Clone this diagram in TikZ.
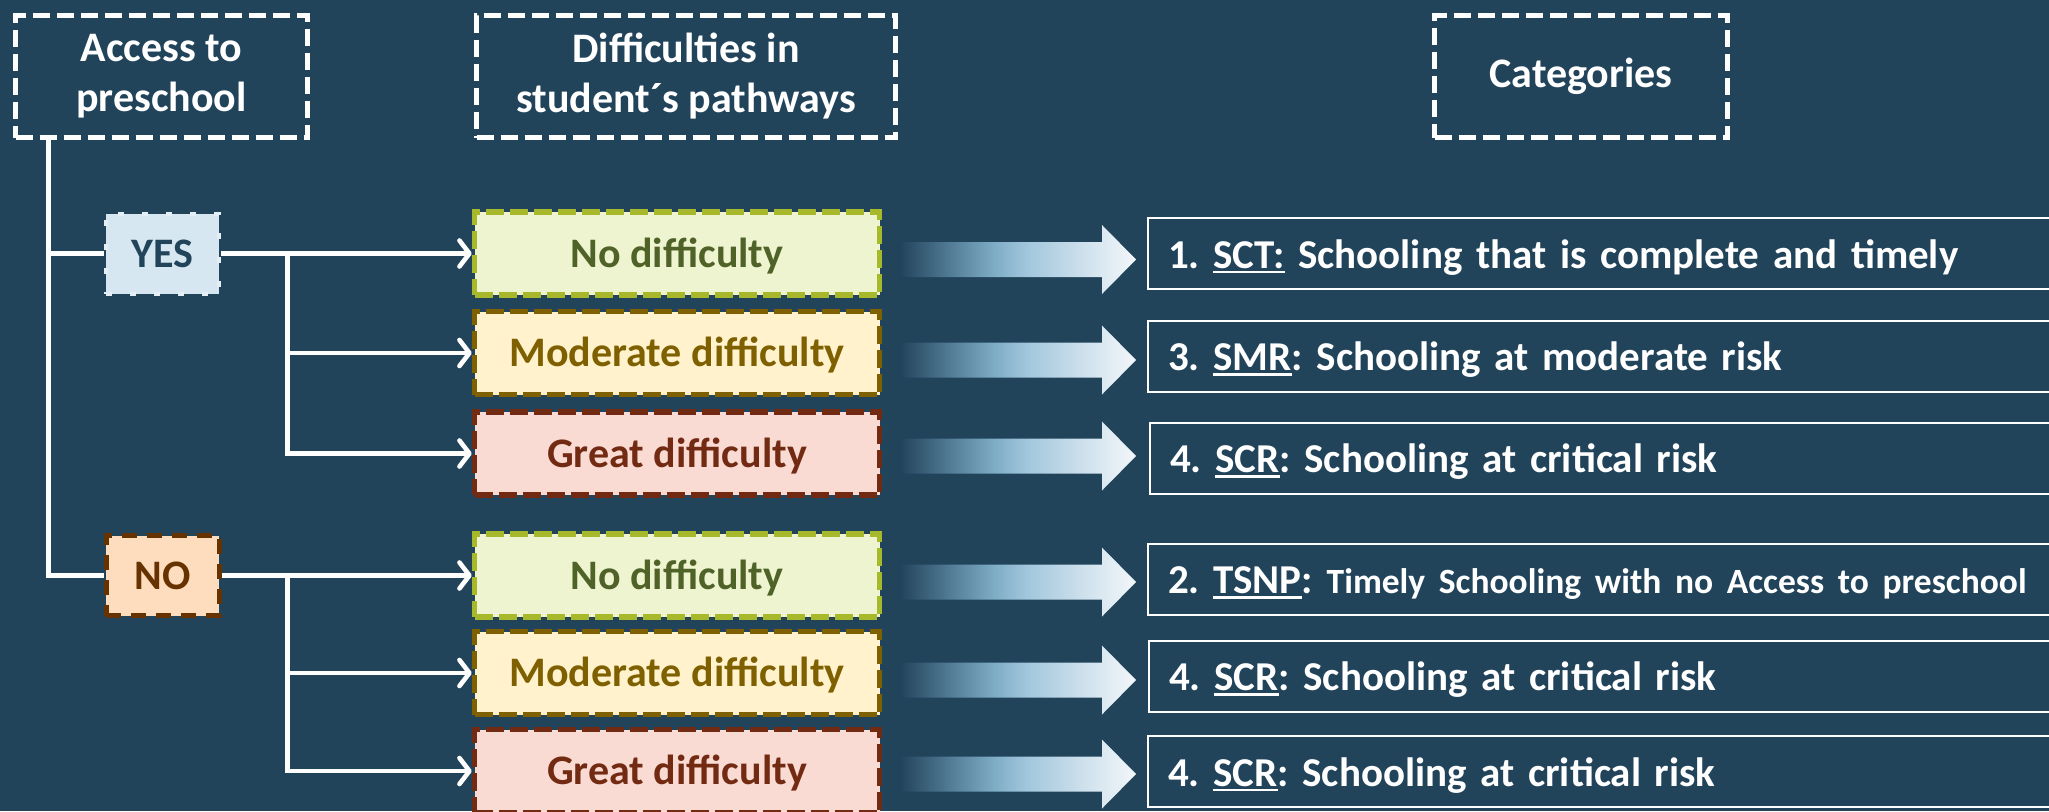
\documentclass[tikz,border=0pt]{standalone}
\usepackage{fontspec}
\setmainfont{Carlito}
\usetikzlibrary{arrows.meta,calc}
\definecolor{bgc}{HTML}{22445B}
\definecolor{ga1}{HTML}{4F7893}
\definecolor{ga2}{HTML}{7EADC6}
\definecolor{ga3}{HTML}{A2C7DC}
\definecolor{ga4}{HTML}{D2E3EE}
\definecolor{ga5}{HTML}{F3F7FA}
\definecolor{yesfill}{HTML}{D7E7F1}
\definecolor{yesborder}{HTML}{E4EEF5}
\definecolor{yestext}{HTML}{22445B}
\definecolor{nofill}{HTML}{FEDDBF}
\definecolor{nocol}{HTML}{663300}
\definecolor{gfill}{HTML}{EFF4D0}
\definecolor{gborder}{HTML}{A7B82A}
\definecolor{gtext}{HTML}{4F6228}
\definecolor{mfill}{HTML}{FFF2CC}
\definecolor{mcol}{HTML}{7F6000}
\definecolor{rfill}{HTML}{F9DBD3}
\definecolor{rcol}{HTML}{722A12}
\pgfdeclarehorizontalshading{gradarr}{100bp}{color(0bp)=(bgc); color(25bp)=(bgc); color(35bp)=(ga1); color(45bp)=(ga2); color(52bp)=(ga3); color(65bp)=(ga4); color(75bp)=(ga5); color(100bp)=(ga5)}
\newcommand\uln[1]{\setbox0\hbox{#1}\rlap{\rule[-5pt]{\wd0}{2.2pt}}\box0\relax}
\newcommand\gradarrow[1]{\shade[shading=gradarr] (900,#1-17.5) -- (1102,#1-17.5) -- (1102,#1-34.5) -- (1136,#1) -- (1102,#1+34.5) -- (1102,#1+17.5) -- (900,#1+17.5) -- cycle;}
\frenchspacing
\begin{document}
\frenchspacing
\begin{tikzpicture}[x=1pt,y=-1pt,
  bigfont/.style={font=\fontsize{42}{50}\selectfont\bfseries\frenchspacing},
  hdr/.style={bigfont, draw=white, line width=4.5pt, dash pattern=on 17pt off 7pt, text=white, align=center, inner sep=0pt, minimum height=122pt},
  yesno/.style={bigfont, minimum width=113pt, minimum height=80pt, inner sep=0pt, text height=38pt, text depth=10pt},
  diffbox/.style={bigfont, line width=5.5pt, dash pattern=on 18pt off 6pt, minimum width=405pt, minimum height=83pt, inner sep=0pt, text height=38pt, text depth=11pt},
  easy/.style={diffbox, draw=gborder, fill=gfill, text=gtext},
  moderate/.style={diffbox, draw=mcol, fill=mfill, text=mcol},
  great/.style={diffbox, draw=rcol, fill=rfill, text=rcol},
  catbox/.style={draw=white, line width=2pt, anchor=west, minimum width=940pt, minimum height=71pt, text width=900pt, inner xsep=20pt, inner ysep=0pt, align=left, text=white, font=\fontsize{41}{46}\selectfont\bfseries\frenchspacing, text height=38pt, text depth=9pt},
  conn/.style={white, line width=4.6pt},
  arr/.style={conn, -{Straight Barb[round, length=10pt, width=26pt]}}
]
\clip (0,0) rectangle (2049,811);
\fill[bgc] (0,0) rectangle (2049,811);

% headers
\node[hdr, minimum width=292pt] (access) at (161.5,76.5) {Access to\\preschool};
\node[hdr, minimum width=419pt] (diffh) at (686,76.5) {Difficulties in\\student´s pathways};
\node[hdr, minimum width=293pt] (cath) at (1581,76.5) {Categories};

% yes / no
\node[yesno, fill=yesfill, draw=yesborder, line width=4pt, dash pattern=on 6pt off 18pt, text=yestext] (yes) at (162.5,253.5) {YES};
\node[yesno, fill=nofill, draw=nocol, line width=5pt, dash pattern=on 15pt off 10pt, text=nocol] (no) at (162.5,575.5) {NO};

% difficulty boxes
\node[easy] (d1) at (677,253.5) {No difficulty};
\node[moderate] (d2) at (677,353) {Moderate difficulty};
\node[great] (d3) at (677,453.5) {Great difficulty};
\node[easy] (d4) at (677,575.5) {No difficulty};
\node[moderate] (d5) at (677,673) {Moderate difficulty};
\node[great] (d6) at (677,771) {Great difficulty};

% category boxes
\node[catbox] (c1) at (1147,253.5) {1. \uln{SCT:} Schooling that is complete and timely};
\node[catbox] (c2) at (1147,356) {3. \uln{SMR}: Schooling at moderate risk};
\node[catbox] (c3) at (1149,458) {4. \uln{SCR}: Schooling at critical risk};
\node[catbox] (c4) at (1147,579) {2. \uln{TSNP}: {\fontsize{35.5}{40}\selectfont Timely Schooling with no Access to preschool}};
\node[catbox] (c5) at (1148,676) {4. \uln{SCR}: Schooling at critical risk};
\node[catbox] (c6) at (1147,771.5) {4. \uln{SCR}: Schooling at critical risk};

% gradient arrows
\gradarrow{259.5}
\gradarrow{360}
\gradarrow{456}
\gradarrow{582}
\gradarrow{680}
\gradarrow{774}

% connectors
\coordinate (tx) at (48.3,0);
\coordinate (bx) at (287.5,0);
\draw[conn] (tx |- access.south) |- (no.west);
\draw[conn] (tx |- yes.west) -- (yes.west);
\draw[arr] (yes.east) -- (d1.west);
\draw[arr] (bx |- yes.east) |- (d2.west);
\draw[arr] (bx |- yes.east) |- (d3.west);
\draw[arr] (no.east) -- (d4.west);
\draw[arr] (bx |- no.east) |- (d5.west);
\draw[arr] (bx |- no.east) |- (d6.west);
\end{tikzpicture}
\end{document}
